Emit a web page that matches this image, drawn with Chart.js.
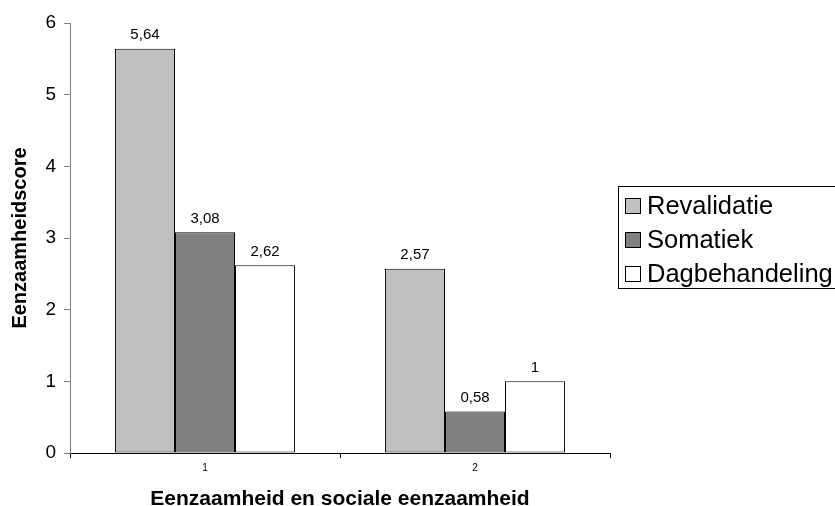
<!DOCTYPE html>
<html>
<head>
<meta charset="utf-8">
<script src="https://cdn.jsdelivr.net/npm/chart.js@4"></script>
<style>
  body { margin: 0; background: #fff; }
  #wrap { width: 835px; height: 506px; }
</style>
</head>
<body>
<div id="wrap"><canvas id="chart" width="835" height="506"></canvas></div>
<script>
const categories = ['1', '2'];
const seriesNames = ['Revalidatie', 'Somatiek', 'Dagbehandeling'];
const revalidatie = [5.64, 2.57];
const somatiek = [3.08, 0.58];
const dagbehandeling = [2.62, 1];
const yTicks = [0, 1, 2, 3, 4, 5, 6];

const FONT = "'Liberation Sans', Arial, sans-serif";

// Value labels above each bar, Dutch decimal comma
const valueLabels = {
  id: 'valueLabels',
  afterDatasetsDraw(chart) {
    const ctx = chart.ctx;
    ctx.save();
    ctx.font = '15px ' + FONT;
    ctx.fillStyle = '#000';
    ctx.textAlign = 'center';
    ctx.textBaseline = 'bottom';
    chart.data.datasets.forEach((ds, i) => {
      chart.getDatasetMeta(i).data.forEach((bar, j) => {
        ctx.fillText(String(ds.data[j]).replace('.', ','), bar.x, bar.y - 6);
      });
    });
    ctx.restore();
  }
};

// Boxed legend on the right, like the original
const boxLegend = {
  id: 'boxLegend',
  afterDraw(chart) {
    const ctx = chart.ctx;
    const x0 = 618, y0 = 186, h = 102;
    ctx.save();
    ctx.strokeStyle = '#000';
    ctx.lineWidth = 1;
    ctx.strokeRect(x0 + 0.5, y0 + 0.5, 240, h);
    ctx.font = '25.5px ' + FONT;
    ctx.textBaseline = 'middle';
    chart.data.datasets.forEach((ds, i) => {
      const cy = y0 + 20 + i * 34;
      ctx.fillStyle = ds.backgroundColor;
      ctx.fillRect(x0 + 7, cy - 8, 16, 16);
      ctx.strokeStyle = '#000';
      ctx.strokeRect(x0 + 7.5, cy - 7.5, 15, 15);
      ctx.fillStyle = '#000';
      ctx.fillText(ds.label, x0 + 29, cy + 1);
    });
    ctx.restore();
  }
};

new Chart(document.getElementById('chart'), {
  type: 'bar',
  data: {
    labels: categories,
    datasets: [
      { label: seriesNames[0], data: revalidatie, backgroundColor: '#c0c0c0' },
      { label: seriesNames[1], data: somatiek, backgroundColor: '#808080' },
      { label: seriesNames[2], data: dagbehandeling, backgroundColor: '#ffffff' }
    ].map(d => Object.assign(d, { borderColor: '#000', borderWidth: 1, borderSkipped: false }))
  },
  options: {
    responsive: false,
    animation: false,
    categoryPercentage: 0.667,
    barPercentage: 1.0,
    layout: { padding: { top: 23, right: 225, left: 0, bottom: 0 } },
    plugins: { legend: { display: false }, tooltip: { enabled: false } },
    scales: {
      x: {
        afterFit: s => { s.height = 53; },
        grid: { display: true, drawOnChartArea: false, drawTicks: true, tickLength: 5, color: '#000', offset: true },
        border: { color: '#000' },
        ticks: { font: { family: FONT, size: 10 }, color: '#000', padding: 4 },
        title: { display: true, text: 'Eenzaamheid en sociale eenzaamheid', font: { family: FONT, size: 21, weight: 'bold', lineHeight: 1 }, color: '#000', padding: { top: 10, bottom: -4 } }
      },
      y: {
        min: 0, max: 6,
        afterFit: s => { s.width = 70; },
        afterBuildTicks: s => { s.ticks = yTicks.map(v => ({ value: v })); },
        grid: { display: true, drawOnChartArea: false, drawTicks: true, tickLength: 6, color: '#808080' },
        border: { color: '#808080' },
        ticks: { font: { family: FONT, size: 19 }, color: '#000', padding: 8 },
        title: { display: true, text: 'Eenzaamheidscore', font: { family: FONT, size: 20, weight: 'bold' }, color: '#000', padding: { bottom: 0, top: 8 } }
      }
    }
  },
  plugins: [valueLabels, boxLegend]
});
</script>
</body>
</html>
